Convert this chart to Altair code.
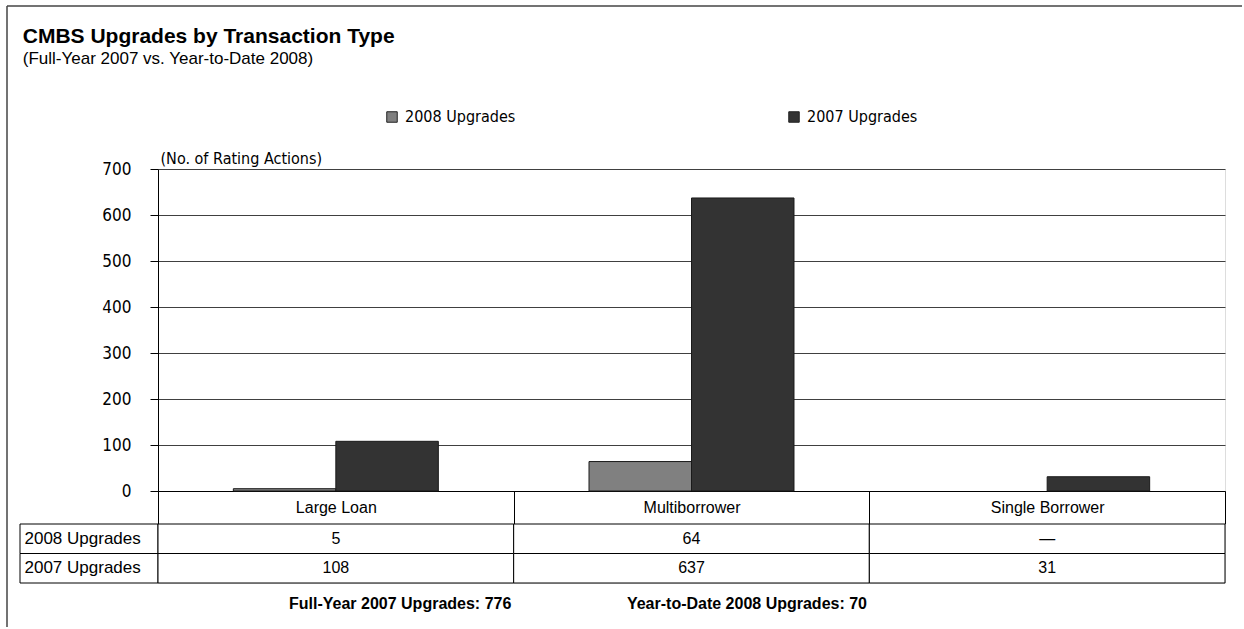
import altair as alt
import pandas as pd

# ---- data ----
categories = ["Large Loan", "Multiborrower", "Single Borrower"]
series_names = ["2008 Upgrades", "2007 Upgrades"]
upgrades_2008 = [5, 64, None]
upgrades_2007 = [108, 637, 31]
y_ticks = [0, 100, 200, 300, 400, 500, 600, 700]
title_text = "CMBS Upgrades by Transaction Type"
subtitle_text = "(Full-Year 2007 vs. Year-to-Date 2008)"
y_title = "(No. of Rating Actions)"
missing_mark = "\u2014"
footer_texts = ["Full-Year 2007 Upgrades: 776", "Year-to-Date 2008 Upgrades: 70"]
series_colors = ["#808080", "#333333"]

NARROW = "Liberation Sans Narrow, DejaVu Sans Condensed, Liberation Sans, sans-serif"
REG = "Liberation Sans, Arial, sans-serif"

rows = []
for cat, v08, v07 in zip(categories, upgrades_2008, upgrades_2007):
    rows.append({"category": cat, "series": series_names[0], "value": v08})
    rows.append({"category": cat, "series": series_names[1], "value": v07})
long_df = pd.DataFrame(rows)
bars_df = long_df.dropna().copy()
table_df = long_df.copy()
table_df["label"] = [missing_mark if pd.isna(v) else str(int(v)) for v in table_df["value"]]
rowlab_df = pd.DataFrame({"series": series_names})
one_df = pd.DataFrame({"k": [0]})

PLOT_W = 1067
PLOT_H = 322
ROW_H = 33
TFONT = 16

x_scale = alt.Scale(domain=categories, paddingInner=0, paddingOuter=0)

bars = alt.Chart(bars_df).mark_bar(stroke="#1a1a1a", strokeWidth=1).encode(
    x=alt.X("category:N", scale=x_scale, sort=categories,
            axis=alt.Axis(title=None, orient="bottom", labelAngle=0, tickBand="extent",
                          tickSize=ROW_H, tickColor="black", domainColor="black",
                          labelPadding=-ROW_H / 2, labelBaseline="middle",
                          labelFont=REG, labelFontSize=TFONT, labelColor="black", grid=False)),
    xOffset=alt.XOffset("series:N", sort=series_names,
                        scale=alt.Scale(domain=series_names, paddingInner=0, paddingOuter=0.735)),
    y=alt.Y("value:Q", scale=alt.Scale(domain=[0, 700], nice=False),
            axis=alt.Axis(values=y_ticks, format="d", title=y_title, titleAngle=0,
                          titleAlign="left", titleBaseline="bottom", titleX=2, titleY=-3,
                          titleFont=NARROW, titleFontSize=16, titleFontWeight="normal",
                          titleColor="black", labelFont=NARROW, labelFontSize=17,
                          labelColor="black", labelPadding=19, tickSize=8, tickColor="black",
                          domainColor="black", grid=True, gridColor="#404040", gridWidth=1)),
    color=alt.Color("series:N", sort=series_names,
                    scale=alt.Scale(domain=series_names, range=series_colors),
                    legend=alt.Legend(title=None, orient="none", direction="horizontal",
                                      legendX=226, legendY=-60, symbolType="square",
                                      symbolSize=110, symbolStrokeColor="#222",
                                      symbolStrokeWidth=1, labelFont=NARROW, labelFontSize=16,
                                      labelColor="black", columnPadding=270, labelOffset=5)),
)

frame_v = alt.Chart(one_df).mark_rule(color="#444", strokeWidth=1.5).encode(
    x=alt.value(-151), y=alt.value(-163), y2=alt.value(458))
frame_h = alt.Chart(one_df).mark_rule(color="#444", strokeWidth=1.5).encode(
    x=alt.value(-151), x2=alt.value(1084), y=alt.value(-163))

bar_layer = alt.layer(frame_v, frame_h, bars).properties(width=PLOT_W, height=PLOT_H)

row_scale = alt.Scale(domain=series_names, paddingInner=0, paddingOuter=0)
row_axis = alt.Axis(title=None, orient="left", ticks=False, domain=False, labelAlign="left",
                    labelPadding=134, labelBaseline="middle", labelFont=REG,
                    labelFontSize=17, labelColor="black")

label_cells = alt.Chart(rowlab_df).mark_rect(fill="white", stroke="black", strokeWidth=1).encode(
    x=alt.value(-138), x2=alt.value(0),
    y=alt.Y("series:N", scale=row_scale, sort=series_names, axis=row_axis),
)
cells = alt.Chart(table_df).mark_rect(fill="white", stroke="black", strokeWidth=1).encode(
    x=alt.X("category:N", scale=x_scale, sort=categories, axis=None),
    y=alt.Y("series:N", scale=row_scale, sort=series_names, axis=row_axis),
)
texts = alt.Chart(table_df).mark_text(font=REG, fontSize=TFONT, color="black").encode(
    x=alt.X("category:N", scale=x_scale, sort=categories, axis=None),
    y=alt.Y("series:N", scale=row_scale, sort=series_names, axis=row_axis),
    text="label:N",
)

gap = "\u00a0" * 26
footer = footer_texts[0] + gap + footer_texts[1]

table_layer = alt.layer(label_cells, cells, texts).properties(
    width=PLOT_W, height=59,
    title=alt.TitleParams(text=footer, orient="bottom", anchor="start", frame="group",
                          dx=131, offset=12, font=REG, fontSize=16, fontWeight="bold",
                          color="black"),
)

chart = alt.vconcat(bar_layer, table_layer, spacing=ROW_H, bounds="flush").properties(
    title=alt.TitleParams(text=title_text, subtitle=subtitle_text, anchor="start",
                          frame="bounds", dx=17, offset=-62, font=REG, fontSize=21,
                          fontWeight="bold", color="black", subtitleFont=REG,
                          subtitleFontSize=17, subtitleColor="black", subtitlePadding=4),
    padding={"left": 5, "top": 4, "right": 0, "bottom": 0},
).configure_view(strokeWidth=0).configure(background="white")

chart.save("out.html", embed_options={"renderer": "svg", "actions": False})
